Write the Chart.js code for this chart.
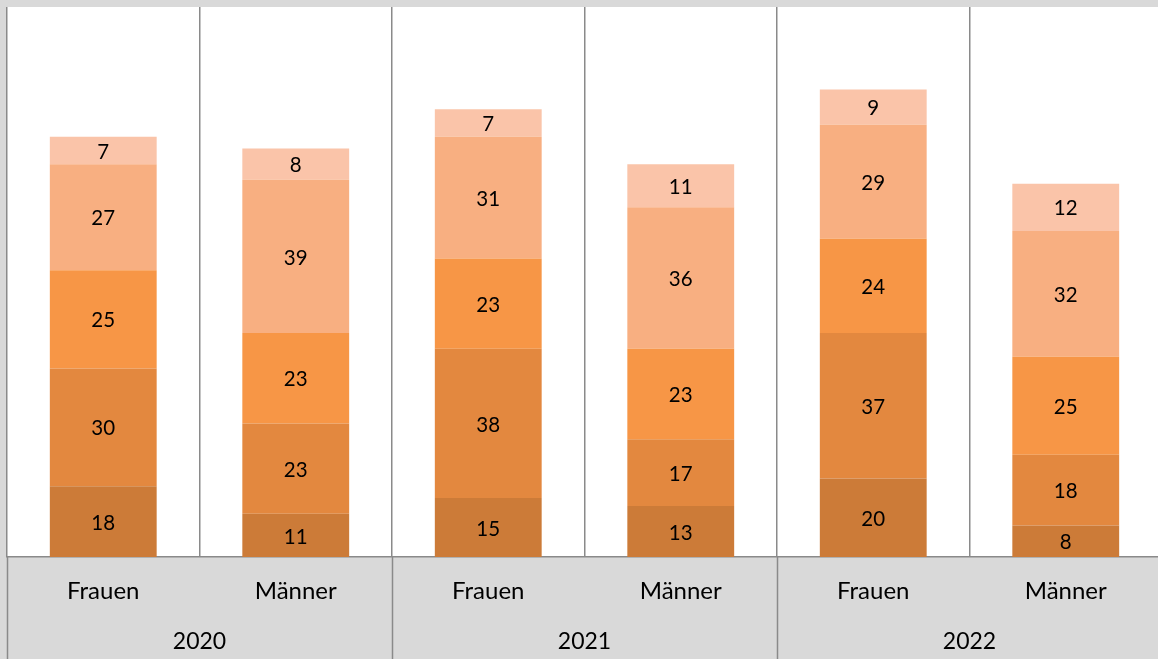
<!DOCTYPE html>
<html>
<head>
<meta charset="utf-8">
<script src="https://cdn.jsdelivr.net/npm/chart.js@4"></script>
<style>
html, body { margin: 0; padding: 0; overflow: hidden; background: #d9d9d9; width: 1158px; height: 659px; }
#wrap { width: 1158px; height: 659px; overflow: hidden; position: relative; }
canvas { display: block; }
</style>
</head>
<body>
<div id="wrap"><canvas id="c" width="1162" height="659"></canvas></div>
<script>
const categories = ['Frauen', 'Männer', 'Frauen', 'Männer', 'Frauen', 'Männer'];
const years = ['2020', '2021', '2022'];
const series1 = [18, 11, 15, 13, 20, 8];
const series2 = [30, 23, 38, 17, 37, 18];
const series3 = [25, 23, 23, 23, 24, 25];
const series4 = [27, 39, 31, 36, 29, 32];
const series5 = [7, 8, 7, 11, 9, 12];
const colors = ['#cc7b38', '#e3883f', '#f79646', '#f8af81', '#fac4a9'];

const FONT = 'Lato, "Open Sans", sans-serif';
const GRID = '#8a8a8a';

const bgPlugin = {
  id: 'bg',
  beforeDraw(chart) {
    const { ctx, chartArea: a } = chart;
    ctx.save();
    ctx.fillStyle = '#d9d9d9';
    ctx.fillRect(0, 0, chart.width, chart.height);
    ctx.fillStyle = '#ffffff';
    ctx.fillRect(a.left, a.top, a.right - a.left, a.bottom - a.top);
    ctx.restore();
  },
  afterDraw(chart) {
    const { ctx, chartArea: a } = chart;
    const ys = chart.scales.xYear;
    const n = ys.getLabels().length;
    ctx.save();
    ctx.strokeStyle = GRID;
    ctx.lineWidth = 1.5;
    for (let i = 0; i <= n; i++) {
      const x = Math.round(ys.left + i * (ys.right - ys.left) / n) + 0.5;
      ctx.beginPath();
      ctx.moveTo(x, a.bottom);
      ctx.lineTo(x, chart.height);
      ctx.stroke();
    }
    ctx.restore();
  }
};

const labelPlugin = {
  id: 'vals',
  afterDatasetsDraw(chart) {
    const { ctx } = chart;
    ctx.save();
    ctx.font = '20.5px ' + FONT;
    ctx.fillStyle = '#000';
    ctx.textAlign = 'center';
    ctx.textBaseline = 'middle';
    chart.data.datasets.forEach((ds, di) => {
      const meta = chart.getDatasetMeta(di);
      meta.data.forEach((el, i) => {
        const v = ds.data[i];
        const p = el.getProps(['x', 'y', 'base'], true);
        ctx.fillText(String(v), p.x, (p.y + p.base) / 2 + 1.5);
      });
    });
    ctx.restore();
  }
};

const seriesList = [series1, series2, series3, series4, series5];
new Chart(document.getElementById('c'), {
  type: 'bar',
  data: {
    labels: categories,
    datasets: seriesList.map((s, i) => ({
      label: 'S' + (i + 1),
      data: s,
      backgroundColor: colors[i],
      borderWidth: 0,
      barPercentage: 0.555,
      categoryPercentage: 1.0,
      xAxisID: 'x',
      yAxisID: 'y'
    }))
  },
  options: {
    responsive: false,
    animation: false,
    devicePixelRatio: 1,
    layout: { padding: { left: 7, top: 7, right: 0, bottom: 0 } },
    plugins: { legend: { display: false }, tooltip: { enabled: false } },
    scales: {
      x: {
        type: 'category',
        position: 'bottom',
        stacked: true,
        offset: true,
        weight: 0,
        grid: { offset: true, drawOnChartArea: true, drawTicks: false, color: GRID, lineWidth: 1.5 },
        border: { display: true, color: GRID, width: 1.5 },
        ticks: { font: { family: FONT, size: 24 }, color: '#000', padding: 19.5, maxRotation: 0, autoSkip: false },
        afterFit(s) { s.height = 50; }
      },
      xYear: {
        type: 'category',
        labels: years,
        position: 'bottom',
        offset: true,
        weight: 1,
        grid: { display: false, drawTicks: false },
        border: { display: false },
        ticks: { font: { family: FONT, size: 23 }, color: '#000', padding: 20.5, maxRotation: 0, autoSkip: false },
        afterFit(s) { s.height = 52; }
      },
      y: {
        display: false,
        stacked: true,
        min: 0,
        max: 140
      }
    }
  },
  plugins: [bgPlugin, labelPlugin]
});
</script>
</body>
</html>
